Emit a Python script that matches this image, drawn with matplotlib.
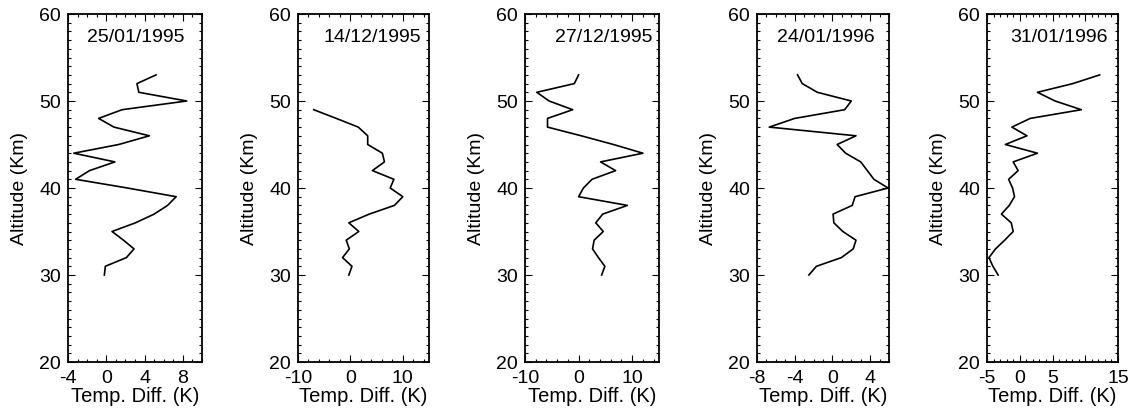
import matplotlib
matplotlib.use("Agg")
import matplotlib.pyplot as plt
from matplotlib.ticker import MultipleLocator, FixedLocator

plt.rcParams['font.family'] = ['Liberation Sans', 'DejaVu Sans']

altitudes = list(range(30, 54))

dates = ["25/01/1995", "14/12/1995", "27/12/1995", "24/01/1996", "31/01/1996"]

diff_250195 = [-0.2, -0.1, 2.1, 2.9, 1.8, 0.6, 3.05, 5.0, 6.4, 7.3, 2.2, -3.2,
               -1.75, 0.9, -3.4, 1.3, 4.5, 0.8, -0.8, 1.65, 8.4, 3.4, 3.2, 5.2]
alt_141295 = list(range(30, 50))
diff_141295 = [-0.3, 0.3, -1.5, -0.2, -0.8, 1.6, -0.3, 3.6, 8.4, 10.0, 7.6, 8.3,
               4.2, 6.5, 6.1, 3.3, 3.3, 1.5, -2.7, -7.0]
diff_271295 = [4.3, 4.9, 3.7, 2.6, 2.9, 4.6, 3.2, 4.5, 9.1, 0.0, 0.9, 2.5,
               6.9, 4.1, 12.0, 6.5, 0.5, -5.8, -5.8, -1.1, -5.5, -7.8, -0.8, 0.0]
diff_240196 = [-2.5, -1.7, 0.95, 2.2, 2.5, 1.1, 0.15, 0.07, 2.1, 2.4, 5.9, 4.4,
               3.7, 3.0, 1.4, 0.5, 2.5, -6.7, -4.0, 1.3, 2.0, -1.6, -3.2, -3.7]
diff_310196 = [-3.3, -4.1, -4.7, -3.7, -2.3, -1.0, -1.3, -2.8, -1.6, -0.8, -1.1, -1.7,
               -0.25, -1.0, 2.7, -2.2, 1.1, -1.2, 1.6, 9.4, 5.4, 2.7, 8.1, 12.2]

series_alt = [altitudes, alt_141295, altitudes, altitudes, altitudes]
series_diff = [diff_250195, diff_141295, diff_271295, diff_240196, diff_310196]

xlims = [(-4, 10), (-10, 15), (-10, 15), (-8, 6), (-5, 15)]
xticks = [[-4, 0, 4, 8], [-10, 0, 10], [-10, 0, 10], [-8, -4, 0, 4], [-5, 0, 5, 10, 15]]
xticklabels = [["-4", "0", "4", "8"], ["-10", "0", "10"], ["-10", "0", "10"],
               ["-8", "-4", "0", "4"], ["-5", "0", "5", "", "15"]]
xminor = [1, 2, 2, 1, 1]
yticks = [20, 30, 40, 50, 60]

W, H = 1138, 414
fig = plt.figure(figsize=(W / 100, H / 100), dpi=100)

px_left = [68, 298, 525, 757, 987]
px_right = [202, 429, 659, 889, 1118]
px_top, px_bot = 15, 363
text_right = [0.873, 0.94, 0.95, 0.89, 0.92]

for i in range(5):
    ax = fig.add_axes([px_left[i] / W, 1 - px_bot / H,
                       (px_right[i] - px_left[i]) / W, (px_bot - px_top) / H])
    ax.plot(series_diff[i], series_alt[i], color='black', lw=1.2)
    ax.set_xlim(*xlims[i])
    ax.set_ylim(20, 60)
    ax.xaxis.set_major_locator(FixedLocator(xticks[i]))
    ax.set_xticklabels(xticklabels[i])
    ax.xaxis.set_minor_locator(MultipleLocator(xminor[i]))
    ax.set_yticks(yticks)
    ax.yaxis.set_minor_locator(MultipleLocator(1))
    ax.tick_params(which='both', direction='in', top=True, right=True,
                   labelsize=14, width=0.8)
    ax.tick_params(axis='x', pad=5)
    ax.tick_params(axis='y', pad=5)
    ax.tick_params(which='major', length=5)
    ax.tick_params(which='minor', length=2.5)
    for s in ax.spines.values():
        s.set_linewidth(1.3)
    ax.set_xlabel("Temp. Diff. (K)", fontsize=14.5, labelpad=0)
    ax.set_ylabel("Altitude (Km)", fontsize=14, labelpad=8)
    ax.text(text_right[i], 0.935, dates[i], transform=ax.transAxes,
            ha='right', va='center', fontsize=14)

fig.savefig("out.png", dpi=100)
